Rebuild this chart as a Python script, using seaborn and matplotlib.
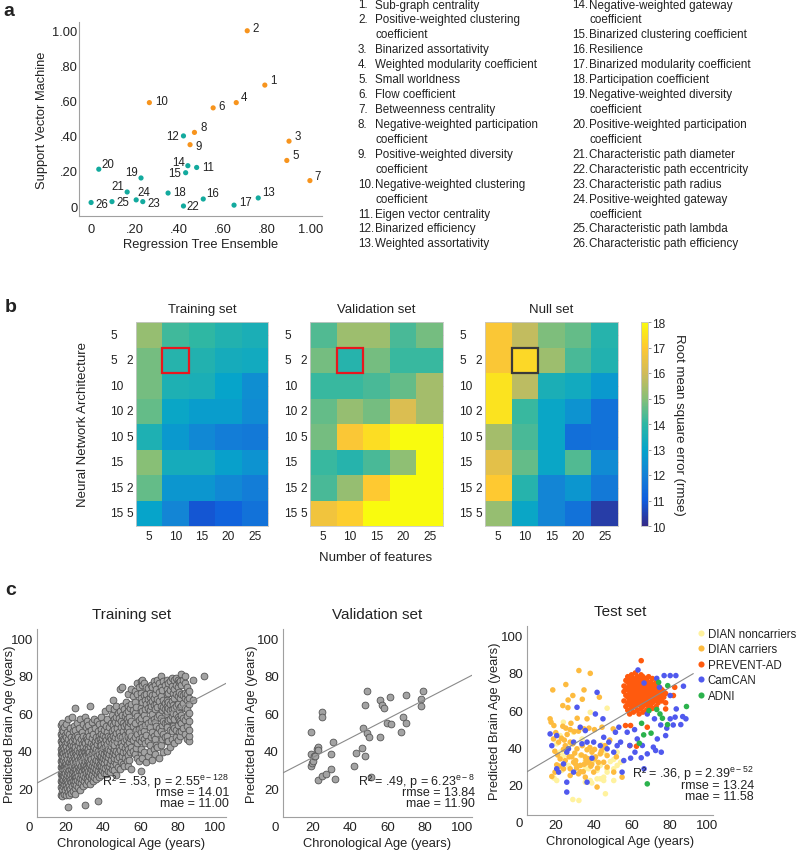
import numpy as np
import pandas as pd
import matplotlib
matplotlib.use("Agg")
import matplotlib.pyplot as plt
from matplotlib.colors import LinearSegmentedColormap
from matplotlib.patches import Rectangle
import seaborn as sns

# ---------------- panel a: feature importance ----------------
FEATURE_NO = list(range(1, 27))
RTE_IMP = [0.79, 0.71, 0.90, 0.66, 0.89, 0.555, 0.995, 0.47, 0.45, 0.265,
           0.48, 0.42, 0.76, 0.44, 0.43, 0.51, 0.65, 0.35, 0.227, 0.035,
           0.164, 0.42, 0.235, 0.205, 0.095, 0.0]
SVM_IMP = [0.69, 1.00, 0.37, 0.59, 0.26, 0.56, 0.145, 0.42, 0.35, 0.59,
           0.22, 0.40, 0.046, 0.23, 0.19, 0.04, 0.005, 0.074, 0.16, 0.21,
           0.08, 0.0, 0.025, 0.035, 0.025, 0.02]
FEATURE_GROUP = ["top"] * 10 + ["rest"] * 16
FEATURE_NAMES = [
    "Sub-graph centrality", "Positive-weighted clustering\ncoefficient",
    "Binarized assortativity", "Weighted modularity coefficient",
    "Small worldness", "Flow coefficient", "Betweenness centrality",
    "Negative-weighted participation\ncoefficient",
    "Positive-weighted diversity\ncoefficient",
    "Negative-weighted clustering\ncoefficient", "Eigen vector centrality",
    "Binarized efficiency", "Weighted assortativity",
    "Negative-weighted gateway\ncoefficient", "Binarized clustering coefficient",
    "Resilience", "Binarized modularity coefficient", "Participation coefficient",
    "Negative-weighted diversity\ncoefficient",
    "Positive-weighted participation\ncoefficient",
    "Characteristic path diameter", "Characteristic path eccentricity",
    "Characteristic path radius", "Positive-weighted gateway\ncoefficient",
    "Characteristic path lambda", "Characteristic path efficiency"]

# ---------------- panel b: rmse grids ----------------
N_FEATURES = [5, 10, 15, 20, 25]
ARCH_L1 = ["5", "5", "10", "10", "10", "15", "15", "15"]
ARCH_L2 = ["", "2", "", "2", "5", "", "2", "5"]
TRAIN_RMSE = [[15.2, 14.2, 14.0, 13.7, 13.5],
              [14.8, 13.8, 13.7, 13.4, 13.3],
              [14.8, 13.6, 13.5, 13.0, 12.4],
              [14.6, 13.1, 12.8, 12.8, 12.3],
              [13.6, 12.7, 12.2, 11.9, 11.8],
              [15.0, 13.4, 13.4, 12.9, 12.5],
              [14.6, 12.6, 12.6, 12.2, 11.9],
              [13.0, 12.1, 10.9, 11.2, 11.6]]
VALID_RMSE = [[14.4, 15.3, 15.3, 14.3, 14.8],
              [14.8, 13.8, 14.8, 14.1, 14.1],
              [14.1, 14.1, 14.3, 14.6, 15.4],
              [14.6, 15.2, 14.8, 16.2, 15.4],
              [14.8, 16.9, 17.4, 18.0, 18.0],
              [14.1, 13.8, 14.3, 15.1, 18.0],
              [14.3, 15.2, 17.0, 18.0, 18.0],
              [16.7, 17.1, 18.0, 18.0, 18.0]]
NULL_RMSE = [[16.9, 15.8, 14.9, 14.6, 13.8],
             [16.9, 17.3, 15.3, 14.3, 13.7],
             [17.5, 15.7, 13.5, 13.3, 12.7],
             [17.5, 14.1, 13.1, 12.5, 11.6],
             [15.4, 14.3, 13.1, 11.5, 11.6],
             [16.4, 14.6, 13.1, 14.4, 12.3],
             [17.0, 13.8, 12.1, 12.6, 11.8],
             [15.2, 13.1, 12.1, 11.6, 10.4]]
BEST_CELL = (1, 1)  # (row, col): architecture "5 2", 10 features

# ---------------- panel c: predicted vs chronological age ----------------
TRAIN_COLUMNS = [
    (17.0, [16, 20.5, 24, 27.5, 31, 34.5, 38, 41, 45, 49, 53.5]),
    (17.5, [18, 22.5, 26, 29, 32.5, 36, 39.5, 43, 47, 51]),
    (18.0, [15.5, 19.5, 23, 25.5, 28.5, 30.5, 33.5, 37, 40, 44, 48, 55]),
    (18.5, [21, 24.5, 27, 30, 35, 38.5, 42, 46, 50.5]),
    (19.0, [17, 22, 26.5, 29.5, 32, 36.5, 41, 45.5, 52.5]),
    (19.5, [19, 23.5, 28, 31.5, 34, 39, 43.5, 48.5]),
    (20.0, [16.5, 21.5, 25, 30, 33, 37.5, 42.5, 47, 54]),
    (20.5, [20, 24, 27, 31, 35.5, 40, 44.5, 50]),
    (21.0, [10, 18, 22.5, 28.5, 32.5, 38, 46, 57]),
    (21.5, [16, 21, 26, 29.5, 34, 41.5, 49]),
    (22.0, [19.5, 24.5, 27.5, 31.5, 36, 39.5, 44, 52]),
    (22.5, [17.5, 23, 30, 33.5, 37.5, 43, 47.5]),
    (23.0, [21, 25.5, 28, 32, 35, 40.5, 45, 58]),
    (23.5, [18.5, 24, 29, 34, 38.5, 42.5, 50.5]),
    (24.0, [22, 26.5, 30.5, 36.5, 41, 46.5, 53]),
    (24.5, [20, 25, 28.5, 33, 39.5, 44, 48]),
    (25.0, [17, 23.5, 27, 31.5, 35.5, 42, 51, 63]),
    (25.5, [21.5, 26, 30, 34, 38, 45.5]),
    (26.0, [24.5, 28, 32.5, 37, 40.5, 48.5, 55]),
    (26.5, [20.5, 26.5, 31, 35, 43, 47]),
    (27.0, [23, 29.5, 33.5, 39, 44.5, 52]),
    (27.5, [19, 25.5, 30.5, 36.5, 41.5, 57]),
    (28.0, [22.5, 27.5, 32, 35.5, 39.5, 46]),
    (28.5, [25, 29, 34.5, 38.5, 43.5, 50]),
    (29.0, [21, 27, 31, 37, 42, 48, 54]),
    (29.5, [24, 30, 33, 36, 40, 45]),
    (30.0, [11, 26, 29.5, 34.5, 39, 44, 58]),
    (30.5, [22, 28, 32, 37.5, 41.5, 47.5, 52.5]),
    (31.0, [25, 30.5, 35, 40, 46, 56]),
    (31.5, [27.5, 33, 38, 43, 50]),
    (32.0, [23.5, 29, 36, 41, 45, 53.5]),
    (32.5, [26.5, 31.5, 34, 39.5, 48]),
    (33.0, [22, 28.5, 33, 37, 42.5, 64]),
    (33.5, [25.5, 30, 35.5, 44, 51]),
    (34.0, [27, 32, 38.5, 46.5, 55.5]),
    (34.5, [24, 29.5, 34, 40.5, 43, 49]),
    (35.0, [26, 31, 36.5, 42, 57]),
    (35.5, [28.5, 33.5, 39, 45, 52]),
    (36.0, [25, 30, 35, 41, 47.5]),
    (36.5, [27.5, 32.5, 37.5, 43.5, 56]),
    (37.0, [13, 29, 34.5, 40, 45.5, 50.5]),
    (37.5, [26, 31.5, 38, 48, 54]),
    (38.0, [28, 33, 36, 42.5, 46]),
    (38.5, [30, 35, 40.5, 44.5, 51.5]),
    (39.0, [27, 32, 37, 43, 49, 58]),
    (39.5, [29.5, 34.5, 39.5, 46.5]),
    (40.0, [31, 36, 41.5, 48.5, 54.5]),
    (40.5, [28, 33.5, 38, 44, 51]),
    (41.0, [30.5, 35.5, 42, 47, 61]),
    (41.5, [27.5, 37, 40, 45.5, 53]),
    (42.0, [32, 34, 39, 43.5, 50, 57]),
    (42.5, [29, 36.5, 41, 48]),
    (43.0, [31.5, 38, 45, 52.5, 63]),
    (43.5, [28.5, 33.5, 40.5, 47.5]),
    (44.0, [35, 42.5, 46, 55]),
    (44.5, [30, 37.5, 44, 50.5, 59]),
    (45.0, [32.5, 39.5, 48, 53.5, 67]),
    (45.5, [34.5, 41, 45.5, 57]),
    (46.0, [29.5, 36, 43, 51.5, 62]),
    (46.5, [38, 47, 55.5]),
    (47.0, [27, 33, 40, 49.5, 58, 64]),
    (47.5, [35.5, 44.5, 52]),
    (48.0, [31, 38.5, 46.5, 54.5, 60]),
    (48.5, [36.5, 42, 50, 57.5]),
    (49.0, [30, 40.5, 48, 61, 73]),
    (49.5, [34, 44, 52.5, 56]),
    (50.0, [37, 42.5, 47.5, 59, 64, 74]),
    (50.5, [33, 39, 50.5, 55]),
    (51.0, [31.5, 45, 53, 62]),
    (51.5, [36, 41.5, 48.5, 58.5]),
    (52.0, [39.5, 46, 54, 60, 66]),
    (52.5, [34.5, 43, 51, 57]),
    (53.0, [37.5, 49, 55.5, 64, 70]),
    (53.5, [32, 41, 47, 52.5, 61]),
    (54.0, [35, 44.5, 50, 58]),
    (54.5, [39, 46.5, 54.5, 63]),
    (55.0, [30, 42, 48, 56, 65, 73]),
    (56.0, [40, 45.5, 53, 61.5, 69]),
    (57.0, [38, 47, 55, 60, 66, 72]),
    (57.5, [41.5, 51, 63.5]),
    (58.0, [36, 44, 49, 58.5, 70, 76]),
    (59.0, [34.5, 46, 51.5, 56.5, 74]),
    (60.0, [29, 38.5, 45, 54, 63, 71, 77]),
    (60.5, [41, 50, 57.5, 68]),
    (61.0, [36, 47.5, 52.5, 61, 66, 75, 78]),
    (62.0, [39, 46, 50.5, 59, 69.5, 76]),
    (62.5, [44, 53.5, 62.5, 67]),
    (63.0, [34, 48.5, 57, 65, 70.5, 74]),
    (64.0, [37, 45, 55, 63, 67.5, 73.5]),
    (65.0, [40, 43, 52.5, 61.5, 65.5, 68.5, 71]),
    (65.5, [47, 56, 64, 75]),
    (66.0, [35, 50, 59.5, 66.5, 69.5, 74]),
    (67.0, [41, 48, 57, 64.5, 68, 77]),
    (68.0, [38, 46, 55.5, 62.5, 70, 75]),
    (68.5, [43, 53, 65, 73]),
    (69.0, [42, 49.5, 58, 63.5, 67.5, 78]),
    (70.0, [36, 52, 59, 66.5, 71.5, 76]),
    (71.0, [43, 50.5, 57.5, 64, 69, 74, 80]),
    (71.5, [46, 53.5, 61.5, 72.5]),
    (72.0, [39, 49, 56, 63.5, 67, 77]),
    (73.0, [47, 54.5, 62, 65.5, 75]),
    (74.0, [40, 45, 55, 59.5, 64, 73, 78]),
    (74.5, [48, 52.5, 61, 67, 70.5]),
    (75.0, [45, 56.5, 63, 66, 71, 76]),
    (76.0, [42, 51, 57, 61.5, 65, 72.5, 77]),
    (77.0, [46, 50.5, 58.5, 62, 66.5, 74.5, 79]),
    (77.5, [53, 60, 64.5, 71]),
    (78.0, [44, 52, 57, 63, 68, 73, 78]),
    (79.0, [47, 51, 59.5, 64, 70, 75, 79]),
    (80.0, [45.5, 53.5, 58, 65, 69, 74, 78]),
    (80.5, [50, 57, 61.5, 71.5, 76.5]),
    (81.0, [48, 56, 63.5, 68, 77]),
    (82.0, [50.5, 55, 59, 64, 70, 75, 81]),
    (83.0, [52, 57.5, 65.5, 69.5, 77.5]),
    (84.0, [49, 56.5, 63, 68, 71, 76, 80]),
    (85.0, [46, 53, 58.5, 62.5, 67, 70.5, 74]),
    (86.0, [45, 48, 51, 56, 60, 65, 68, 72]),
    (88.0, [67, 78]),
    (94.0, [80]),
]
VALID_AGE = [18.9, 18.8, 19.1, 19.6, 20.0, 20.5, 21.1, 22.0, 22.9, 22.9, 22.9,
             24.8, 24.8, 24.8, 27.0, 29.8, 29.8, 30.7, 31.8, 41.8, 42.9, 46.1,
             47.1, 47.9, 48.0, 48.9, 48.9, 50.2, 50.9, 55.9, 56.1, 57.1, 58.2,
             60.0, 61.1, 62.1, 67.1, 68.2, 70.2, 70.2, 78.2, 78.2, 79.3]
VALID_PRED = [49.9, 38.1, 31.9, 33.3, 34.2, 36.9, 37.2, 40.8, 42.0, 40.3, 24.1,
              60.7, 58.2, 26.6, 27.5, 38.0, 30.1, 44.4, 24.6, 31.9, 38.7, 41.5,
              52.2, 37.1, 64.3, 71.7, 49.3, 47.0, 25.9, 67.1, 47.2, 64.4, 62.7,
              54.7, 68.9, 54.0, 49.7, 58.0, 69.8, 55.0, 67.5, 63.9, 71.6]

NONCARRIER_AGE = [29, 32.2, 46.2, 35.6, 38.2, 43.5, 45.3, 41.8, 47.1, 52.4,
                  48.8, 44.1, 38.2, 47.1, 22.3, 20.5, 24.1, 26.7, 20.5, 19.1,
                  32.9, 37.3, 33.9, 29.4, 24, 50.6, 54.2, 43.5, 40, 35.6, 26.7,
                  33, 41.8, 45.3, 39, 37.3, 47, 50.6, 52.4, 45.3, 22.3, 23.2,
                  35.6, 50.6]
NONCARRIER_PRED = [12.1, 11.6, 15.2, 21.4, 22.3, 23.2, 24.1, 27.7, 26.8, 30.4,
                   32.5, 41.4, 58.9, 61.1, 46.4, 42, 35.7, 30.4, 22.3, 23.6,
                   35.7, 33.9, 44.6, 48.2, 53.6, 33.6, 32.1, 30.4, 33, 28.6, 41,
                   30.4, 23.2, 22.3, 21, 28.6, 28.6, 28.6, 37.5, 37.5, 37.5,
                   27.7, 33, 22.3]
CARRIER_AGE = [32.2, 38.2, 18.4, 25.3, 29, 34, 34.9, 43, 23.7, 26.4, 26.5,
               31.3, 36.5, 17, 17.5, 19, 23.7, 25.3, 27.6, 29.7, 32, 34.9, 37.5,
               40.4, 44.4, 50.3, 18.8, 21.5, 25, 27.6, 31.2, 36.5, 39.1, 43.5,
               47.1, 22.3, 25, 29.4, 33, 36.5, 40.5, 45.3, 19.6, 24.1, 27.6, 32,
               35.6, 40, 47.1, 50.6, 55, 41.8, 20.5, 17.9, 27.6, 21, 23, 28.5,
               30.5, 33.5, 35, 37, 38.5, 41, 42.5, 44, 46, 19.5, 22, 24.5, 26,
               29, 31, 34, 36, 39, 42, 28, 30, 33, 35.5, 38, 20, 24, 27, 30.5,
               34.5, 37.5, 40.5, 52, 48.5, 45]
CARRIER_PRED = [81.3, 79.8, 70.9, 73.8, 67.9, 65.9, 70.9, 67.0, 62.5, 61.4,
                65.5, 55.7, 55.4, 55.4, 53.6, 51.8, 51.4, 50.4, 49.6, 48.6, 48.8,
                50.0, 50.4, 49.6, 50.9, 50.0, 44.6, 42.9, 41.0, 42.9, 39.3, 38.8,
                37.5, 36.6, 35.7, 33.9, 33.0, 32.1, 30.4, 31.8, 33.9, 32.1, 26.8,
                28.6, 25.0, 25.9, 24.1, 26.8, 29.5, 26.8, 24.1, 18.8, 30.7, 24.5,
                28.6, 36, 45, 35, 33, 36, 31, 34, 30, 35, 32, 38, 41, 38, 30, 44,
                47, 42, 29, 41, 33, 31, 29, 53, 37, 27, 35, 40, 48, 39, 35, 31,
                27, 33, 39, 35, 44, 40]
PREVENT_COLUMNS = [
    (56, [65, 70, 73]), (57, [62, 68, 72, 76]), (58, [60, 64, 67, 71, 75, 78]),
    (59, [58, 63, 66, 69, 73, 77]), (60, [61, 65, 68, 70, 72, 75, 79]),
    (61, [59, 63, 66, 69, 71, 74, 77]), (62, [62, 64, 67, 70, 73, 76, 80]),
    (63, [60, 65, 68, 71, 72, 75, 78]), (64, [58, 63, 66, 69, 71, 74, 77]),
    (65, [61, 64, 67, 70, 73, 76, 79]), (66, [59, 62, 65, 68, 71, 74, 78]),
    (67, [63, 66, 69, 72, 75, 77]), (68, [60, 64, 67, 70, 73, 76]),
    (69, [62, 65, 68, 71, 74, 78]), (70, [63, 66, 69, 72, 75]),
    (71, [61, 64, 67, 70, 73, 77]), (72, [65, 68, 71, 74]),
    (73, [62, 66, 69, 72, 75]), (74, [64, 67, 70, 73]), (75, [66, 69, 72]),
    (76, [65, 68, 71]), (77, [67, 70]), (78, [64, 69]),
    (65.1, [86.6]), (56.8, [51.8]), (59.5, [51.8]), (59.1, [41.0]),
    (68.3, [50.9]), (62.6, [40.7]), (78.0, [60.7]), (82.1, [67.9]),
    (82.8, [72.3]), (73.6, [74.1])]
CAMCAN_AGE = [63.4, 77.2, 80.4, 83.4, 87.4, 73.3, 66.6, 74.7, 80.4, 83.6, 80.4,
              83, 87, 88.7, 86, 82, 75.4, 78.6, 73.6, 71.5, 72.7, 75.7, 68.3,
              65.1, 65.7, 61.6, 57.7, 53.3, 54.2, 50.6, 52.4, 45.3, 48, 43.5,
              40, 36.5, 33.8, 29.4, 26.7, 32.9, 35.6, 31.2, 40.9, 44.9, 41.8,
              17, 20.5, 25.8, 17.9, 21.5, 25.8, 25.8, 24.1, 36.5, 39.1, 47.1,
              51.5, 55, 55.9, 59.5, 61.8, 66.6, 63, 72.1, 78, 68.3, 59.1, 20.5,
              29.4]
CAMCAN_PRED = [81.6, 78.6, 78.6, 78.6, 72.9, 77.1, 74.6, 72.3, 67.9, 60.7, 55.4,
               56.3, 56.6, 55.4, 52.3, 52.1, 52.1, 50.4, 44.6, 40.2, 38.4, 37.5,
               36.6, 34.5, 41.1, 49.6, 48.2, 50.9, 42.9, 37.5, 41.0, 45.5, 42.9,
               41.0, 42.9, 42.9, 42.0, 42.9, 39.3, 50.9, 49.1, 61.6, 58.0, 55.4,
               69.6, 47.3, 46.4, 37.5, 41.0, 26.8, 21.4, 16.1, 31.2, 21.4, 34.3,
               39.3, 48.2, 26.8, 33.0, 34.3, 37.5, 28.6, 44.6, 55.4, 46.4, 58.0,
               41.1, 28.6, 26.8]
ADNI_AGE = [74.3, 79.1, 73.3, 69.2, 76.3, 65.3, 66.4, 70.3, 64.1, 89.0, 68.3,
            79.0, 75.0]
ADNI_PRED = [75.0, 73.2, 60.4, 59.8, 55.7, 53.0, 46.8, 47.7, 42.3, 62.0, 20.5,
             52.3, 58.0]
TEST_GROUPS = ["DIAN noncarriers", "DIAN carriers", "PREVENT-AD", "CamCAN", "ADNI"]

# fitted lines: slope, intercept, x range
TRAIN_FIT = (0.524, 20.4, 4.3, 106.0)
VALID_FIT = (0.514, 26.1, 3.9, 105.4)
TEST_FIT = (0.60, 24.1, 4.8, 92.6)
TRAIN_STATS = ["R² = .53, p = 2.55$^{\\mathrm{e-128}}$", "rmse = 14.01", "mae = 11.00"]
VALID_STATS = ["R² = .49, p = 6.23$^{\\mathrm{e-8}}$", "rmse = 13.84", "mae = 11.90"]
TEST_STATS = ["R² = .36, p = 2.39$^{\\mathrm{e-52}}$", "rmse = 13.24", "mae = 11.58"]

# ---------------------------------------------------------------
sns.set_style("white")
plt.rcParams["font.family"] = ["Liberation Sans", "DejaVu Sans"]
plt.rcParams["mathtext.fontset"] = "custom"
plt.rcParams["mathtext.rm"] = "Liberation Sans"
plt.rcParams["mathtext.it"] = "Liberation Sans:italic"
plt.rcParams["text.color"] = "#222222"
plt.rcParams["axes.labelcolor"] = "#222222"

W, H = 798, 853
fig = plt.figure(figsize=(W / 100, H / 100), dpi=100)


def px_axes(x0, y0, x1, y1):
    return fig.add_axes([x0 / W, 1 - y1 / H, (x1 - x0) / W, (y1 - y0) / H])


def gray_spines(ax):
    sns.despine(ax=ax)
    for s in ["left", "bottom"]:
        ax.spines[s].set_color("#a0a0a0")
        ax.spines[s].set_linewidth(0.8)


parula = LinearSegmentedColormap.from_list(
    "parula", ["#352a87", "#0f5cdd", "#1481d6", "#06a4ca", "#2eb7a4",
               "#87bf77", "#d1bb59", "#fec832", "#f9fb0e"])

# ---------------- a ----------------
ax_a = px_axes(79, 23, 322, 217)
df_a = pd.DataFrame({"rte": RTE_IMP, "svm": SVM_IMP, "grp": FEATURE_GROUP})
sns.scatterplot(data=df_a, x="rte", y="svm", hue="grp",
                palette={"top": "#f7941d", "rest": "#13aa9e"},
                s=14, linewidth=0, legend=False, ax=ax_a)
label_off = {1: (4, 4), 2: (4, 2), 3: (4, 4), 4: (3, 4), 5: (4, 4), 6: (4, 1),
             7: (3, 3), 8: (4, 4), 9: (4, -1), 10: (4, 1), 11: (4, 0),
             12: (-3, 0), 13: (3, 4), 14: (-2, 3), 15: (-3, 0), 16: (2, 4),
             17: (4, 2), 18: (4, 1), 19: (-2, 4), 20: (2, 4), 21: (-2, 4),
             22: (2, 0), 23: (3, -1), 24: (1, 6), 25: (3, 0), 26: (3, -1)}
for n, xv, yv in zip(FEATURE_NO, RTE_IMP, SVM_IMP):
    dx, dy = label_off[n]
    ax_a.annotate(str(n), (xv, yv), xytext=(dx, dy), textcoords="offset points",
                  ha="left" if dx > 0 else "right", va="center", fontsize=8.3)
ax_a.set_xlim(-0.055, 1.05)
ax_a.set_ylim(-0.057, 1.05)
ticks_a = [0, 0.2, 0.4, 0.6, 0.8, 1.0]
tick_lbl_a = ["0", ".20", ".40", ".60", ".80", "1.00"]
ax_a.set_xticks(ticks_a, tick_lbl_a)
ax_a.set_yticks(ticks_a, tick_lbl_a)
gray_spines(ax_a)
ax_a.tick_params(axis="y", direction="in", length=3, width=0.8, color="#a0a0a0",
                 labelsize=9.3, pad=1, labelcolor="#222222")
ax_a.tick_params(axis="x", direction="out", length=3, width=0.8, color="#a0a0a0",
                 labelsize=9.3, pad=2, labelcolor="#222222")
ax_a.set_xlabel("Regression Tree Ensemble", fontsize=9.3)
ax_a.set_ylabel("Support Vector Machine", fontsize=9.3)
ax_a.xaxis.set_label_coords(0.5, -0.113)
ax_a.yaxis.set_label_coords(-0.128, 0.5)

# feature list
col_x = [(358, 375), (572, 589)]
line_h = 14.93
for c in range(2):
    line = 0
    for k in range(13):
        idx = c * 13 + k
        y = 5.5 + line * line_h
        fig.text(col_x[c][0] / W, 1 - y / H, f"{idx + 1}.", fontsize=8.4,
                 va="center", ha="left")
        for j, part in enumerate(FEATURE_NAMES[idx].split("\n")):
            fig.text(col_x[c][1] / W, 1 - (y + j * line_h) / H, part,
                     fontsize=8.4, va="center", ha="left")
        line += FEATURE_NAMES[idx].count("\n") + 1

# ---------------- b ----------------
heat_boxes = [(136, 268), (310, 443), (485, 618)]
heat_data = [TRAIN_RMSE, VALID_RMSE, NULL_RMSE]
heat_titles = ["Training set", "Validation set", "Null set"]
box_colors = ["#e8171e", "#e8171e", "#3a3a3a"]
cax = px_axes(641, 323, 648, 527)
for i in range(3):
    ax = px_axes(heat_boxes[i][0], 323, heat_boxes[i][1], 527)
    df = pd.DataFrame(heat_data[i], index=range(8), columns=N_FEATURES)
    sns.heatmap(df, ax=ax, cmap=parula, vmin=10, vmax=18,
                cbar=(i == 2), cbar_ax=cax if i == 2 else None)
    r, cidx = BEST_CELL
    ax.add_patch(Rectangle((cidx, r), 1, 1, fill=False, ec=box_colors[i],
                           lw=1.6, zorder=5))
    ax.set_yticks(np.arange(8) + 0.5, [""] * 8)
    ax.set_xticks(np.arange(5) + 0.5, N_FEATURES)
    ax.tick_params(axis="x", bottom=False, top=True, direction="in", length=2,
                   color="#999999", labelsize=8.6, pad=3, labelcolor="#222222")
    ax.tick_params(axis="y", left=False, right=True, direction="in", length=2,
                   color="#999999")
    ax.set_xlabel("")
    ax.set_ylabel("")
    for s in ax.spines.values():
        s.set_visible(True)
        s.set_color("#c8c8c8")
        s.set_linewidth(0.6)
    for row in range(8):
        ax.annotate(ARCH_L1[row], (0, row + 0.5),
                    xycoords=("axes fraction", "data"), xytext=(-18.7, 0),
                    textcoords="offset points", ha="left", va="center",
                    fontsize=8.6)
        ax.annotate(ARCH_L2[row], (0, row + 0.5),
                    xycoords=("axes fraction", "data"), xytext=(-2.0, 0),
                    textcoords="offset points", ha="right", va="center",
                    fontsize=8.6)
    ax.set_title(heat_titles[i], fontsize=9.5, pad=7)

cax.set_yticks(range(10, 19))
cax.tick_params(labelsize=8.6, length=2, width=0.6, color="#888888", pad=1)
cax.yaxis.set_ticks_position("right")
for s in cax.spines.values():
    s.set_visible(True)
    s.set_color("#c8c8c8")
    s.set_linewidth(0.5)
fig.text(679 / W, 1 - 425 / H, "Root mean square error (rmse)", rotation=270,
         fontsize=9.5, ha="center", va="center")
fig.text(376 / W, 1 - 558 / H, "Number of features", fontsize=9.5,
         ha="center", va="center")
fig.text(83 / W, 1 - 425 / H, "Neural Network Architecture", rotation=90,
         fontsize=9.5, ha="center", va="center")

# ---------------- c ----------------
train_age = [a for a, ps in TRAIN_COLUMNS for _ in ps]
train_pred = [p for a, ps in TRAIN_COLUMNS for p in ps]
prev_age = [a for a, ps in PREVENT_COLUMNS for _ in ps]
prev_pred = [p for a, ps in PREVENT_COLUMNS for p in ps]

test_df = pd.concat([
    pd.DataFrame({"age": NONCARRIER_AGE, "pred": NONCARRIER_PRED, "grp": TEST_GROUPS[0]}),
    pd.DataFrame({"age": CARRIER_AGE, "pred": CARRIER_PRED, "grp": TEST_GROUPS[1]}),
    pd.DataFrame({"age": prev_age, "pred": prev_pred, "grp": TEST_GROUPS[2]}),
    pd.DataFrame({"age": CAMCAN_AGE, "pred": CAMCAN_PRED, "grp": TEST_GROUPS[3]}),
    pd.DataFrame({"age": ADNI_AGE, "pred": ADNI_PRED, "grp": TEST_GROUPS[4]}),
])
test_pal = dict(zip(TEST_GROUPS, ["#fff29e", "#fdbb3f", "#ff5a0e", "#5059ee", "#2bb24c"]))

ax_tr = px_axes(37, 630, 226, 818)
ax_va = px_axes(283, 630, 472, 818)
ax_te = px_axes(527, 627, 713, 816)

sns.scatterplot(x=train_age, y=train_pred, ax=ax_tr, s=24, color="#a3a3a3",
                edgecolor="#555555", linewidth=0.6)
sns.scatterplot(x=VALID_AGE, y=VALID_PRED, ax=ax_va, s=24, color="#a3a3a3",
                edgecolor="#555555", linewidth=0.6)
sns.scatterplot(data=test_df, x="age", y="pred", hue="grp", hue_order=TEST_GROUPS,
                palette=test_pal, s=16, linewidth=0, ax=ax_te)

panels = [(ax_tr, TRAIN_FIT, TRAIN_STATS, "Training set", (4.3, 106), (4.5, 105), 1.016, [0.191, 0.133, 0.074], -0.111),
          (ax_va, VALID_FIT, VALID_STATS, "Validation set", (3.9, 105.4), (4.5, 105), 1.016, [0.191, 0.133, 0.074], -0.132),
          (ax_te, TEST_FIT, TEST_STATS, "Test set", (4.8, 103), (3.8, 105.2), 1.22, [0.222, 0.16, 0.10], -0.14)]
for ax, fit, stats, title, xl, yl, tx, tys, ylx in panels:
    slope, icpt, x0, x1 = fit
    ax.plot([x0, x1], [icpt + slope * x0, icpt + slope * x1], color="#8a8a8a",
            lw=0.8, zorder=3)
    ax.set_xlim(xl)
    ax.set_ylim(yl)
    ax.set_xticks([20, 40, 60, 80, 100])
    ax.set_yticks([20, 40, 60, 80, 100])
    gray_spines(ax)
    ax.tick_params(length=2, width=0.8, color="#a0a0a0", labelsize=9.5,
                   pad=1, labelcolor="#222222")
    ax.annotate("0", (0, 0), xycoords=("axes fraction", "data"), xytext=(-3, -1),
                textcoords="offset points", ha="right", va="center",
                fontsize=9.5, annotation_clip=False)
    ax.set_xlabel("Chronological Age (years)", fontsize=9.3)
    ax.set_ylabel("Predicted Brain Age (years)", fontsize=9.3)
    ax.xaxis.set_label_coords(0.5, -0.108)
    ax.yaxis.set_label_coords(ylx, 0.5)
    ax.set_title(title, fontsize=11, pad=8)
    for t, ty in zip(stats, tys):
        ax.text(tx, ty, t, transform=ax.transAxes, ha="right", va="center",
                fontsize=9)

ax_te.legend(loc="upper left", bbox_to_anchor=(0.915, 0.99), frameon=False,
             fontsize=8.3, handlelength=0.6, handletextpad=0.3,
             labelspacing=0.3, markerscale=1.1, borderaxespad=0, borderpad=0)

fig.text(0.004, 1 - 11 / H, "a", fontsize=14, fontweight="bold", va="center")
fig.text(0.006, 1 - 307 / H, "b", fontsize=14, fontweight="bold", va="center")
fig.text(0.006, 1 - 591 / H, "c", fontsize=14, fontweight="bold", va="center")

fig.savefig("out.png", dpi=100)
